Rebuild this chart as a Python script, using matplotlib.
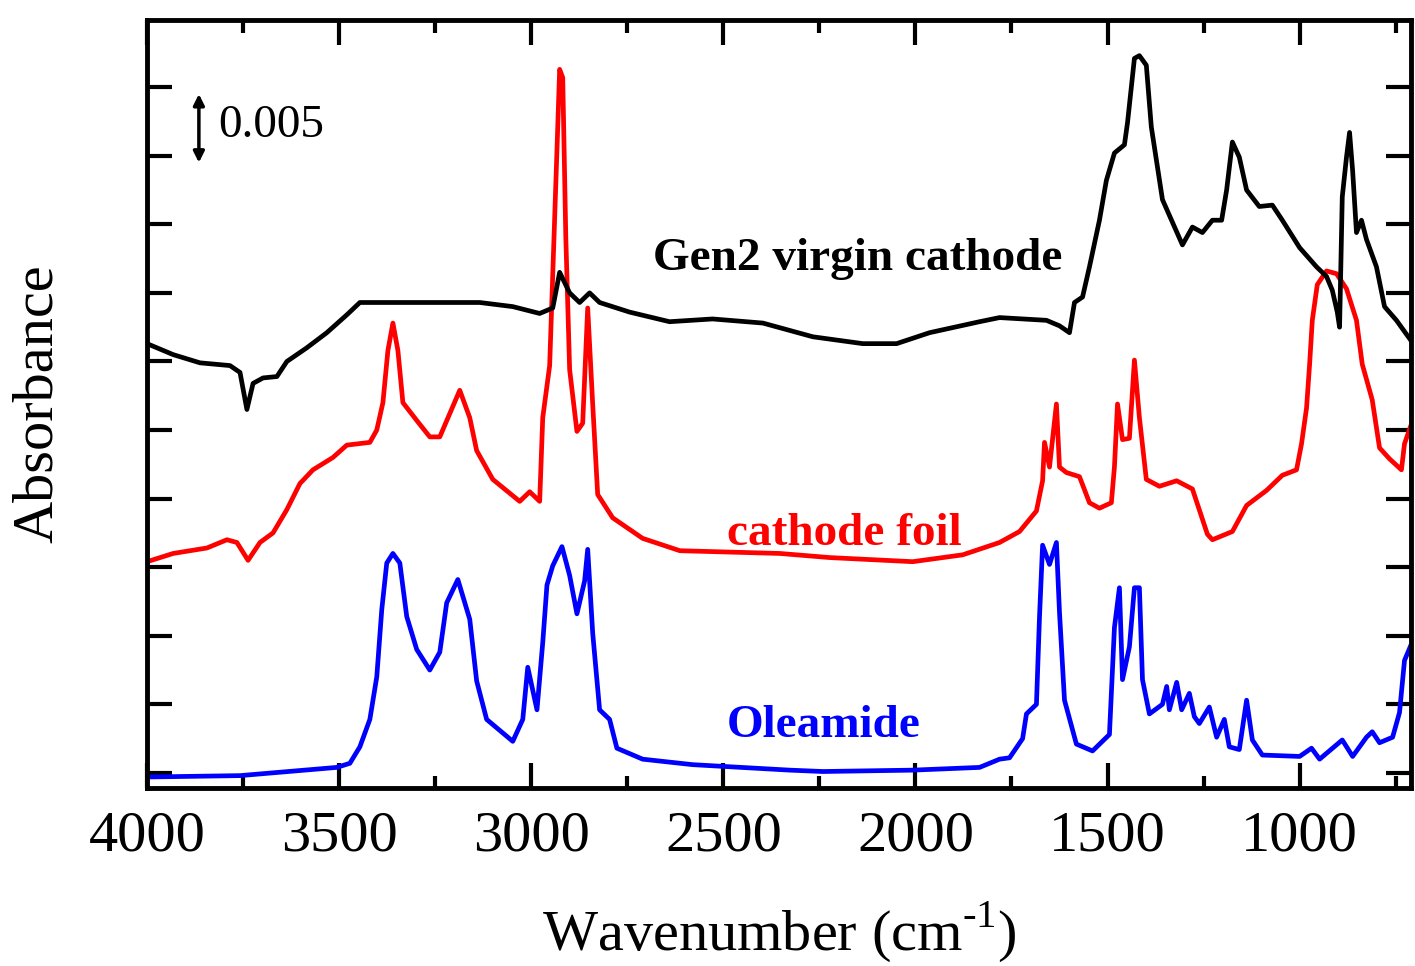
import numpy as np
import matplotlib
matplotlib.use("Agg")
import matplotlib.pyplot as plt
from matplotlib.ticker import MultipleLocator

# FTIR spectra, absorbance in milli-absorbance units
gen2_wn = [4000, 3932, 3862, 3784, 3758, 3740, 3724, 3698, 3662, 3636, 3584, 3532,
           3480, 3446, 3316, 3160, 3134, 3048, 2978, 2944, 2926, 2900, 2874, 2848,
           2822, 2744, 2640, 2528, 2397, 2267, 2137, 2049, 1963, 1833, 1781, 1659,
           1625, 1599, 1586, 1565, 1547, 1521, 1503, 1482, 1456, 1448, 1430, 1417,
           1399, 1386, 1357, 1305, 1279, 1253, 1227, 1203, 1190, 1175, 1157, 1138,
           1105, 1071, 1045, 1000, 956, 930, 915, 902, 896, 889, 878, 870, 862, 852,
           839, 826, 800, 779, 748, 712]
gen2_abs = [31.3, 30.5, 29.9, 29.7, 29.2, 26.5, 28.4, 28.8, 28.9, 30.0, 31.0, 32.1,
            33.4, 34.3, 34.3, 34.3, 34.3, 34.0, 33.5, 33.9, 36.5, 35.0, 34.3, 35.0,
            34.3, 33.6, 32.9, 33.1, 32.8, 31.8, 31.3, 31.3, 32.1, 32.9, 33.2, 33.0,
            32.6, 32.1, 34.3, 34.7, 36.9, 40.3, 43.2, 45.2, 45.8, 47.4, 52.1, 52.3,
            51.6, 47.1, 41.8, 38.5, 39.8, 39.4, 40.3, 40.3, 42.5, 46.0, 44.9, 42.5,
            41.3, 41.4, 40.3, 38.3, 36.9, 36.2, 35.2, 33.6, 32.5, 42.0, 44.9, 46.7,
            43.9, 39.4, 40.3, 38.9, 36.9, 34.0, 33.0, 31.6]

foil_wn = [4000, 3932, 3844, 3792, 3766, 3737, 3706, 3672, 3636, 3602, 3568, 3516,
           3480, 3420, 3402, 3386, 3373, 3360, 3347, 3334, 3298, 3264, 3238, 3212,
           3186, 3160, 3142, 3100, 3030, 3004, 2978, 2970, 2952, 2933, 2926, 2918,
           2910, 2900, 2881, 2866, 2853, 2840, 2827, 2788, 2710, 2613, 2353, 2223,
           2007, 1877, 1781, 1729, 1685, 1669, 1664, 1651, 1633, 1625, 1607, 1573,
           1547, 1521, 1490, 1482, 1474, 1461, 1443, 1430, 1417, 1399, 1365, 1320,
           1279, 1240, 1227, 1175, 1138, 1086, 1045, 1008, 995, 982, 974, 967, 954,
           930, 904, 878, 852, 837, 811, 792, 766, 735, 727, 712]
foil_abs = [15.4, 16.0, 16.4, 17.0, 16.8, 15.5, 16.8, 17.5, 19.2, 21.1, 22.1, 23.0,
            23.9, 24.1, 25.0, 27.0, 30.8, 32.8, 30.8, 27.0, 25.7, 24.5, 24.5, 26.2,
            27.9, 25.9, 23.5, 21.4, 19.8, 20.5, 19.8, 25.9, 29.7, 45.4, 51.3, 50.7,
            39.1, 29.4, 24.9, 25.5, 33.9, 26.9, 20.3, 18.6, 17.1, 16.2, 16.0, 15.7,
            15.4, 15.9, 16.8, 17.6, 19.1, 21.3, 24.1, 22.3, 26.9, 22.3, 21.9, 21.6,
            19.7, 19.3, 19.7, 22.3, 26.9, 24.3, 24.4, 30.1, 25.9, 21.4, 20.9, 21.3,
            20.7, 17.4, 17.0, 17.6, 19.5, 20.6, 21.7, 22.1, 24.0, 26.6, 29.8, 33.0,
            35.6, 36.6, 36.4, 35.3, 33.0, 29.8, 27.2, 23.7, 22.9, 22.1, 24.0, 25.2]

ole_wn = [4000, 3758, 3506, 3472, 3446, 3420, 3402, 3389, 3376, 3360, 3342, 3324,
          3298, 3264, 3238, 3220, 3191, 3160, 3142, 3116, 3048, 3022, 3009, 2985,
          2970, 2959, 2944, 2920, 2900, 2881, 2861, 2853, 2840, 2822, 2796, 2777,
          2710, 2580, 2327, 2241, 2007, 1833, 1781, 1755, 1721, 1711, 1685, 1677,
          1669, 1651, 1633, 1625, 1612, 1581, 1539, 1495, 1482, 1469, 1461, 1443,
          1430, 1417, 1409, 1391, 1357, 1346, 1339, 1320, 1307, 1287, 1274, 1261,
          1235, 1216, 1196, 1183, 1157, 1138, 1123, 1097, 1000, 969, 948, 889, 862,
          826, 811, 792, 758, 740, 727, 712]
ole_abs = [-0.3, -0.2, 0.4, 0.7, 1.9, 3.9, 7.0, 11.9, 15.3, 16.0, 15.3, 11.4,
           9.0, 7.5, 8.8, 12.4, 14.1, 11.2, 6.7, 3.9, 2.3, 3.9, 7.7, 4.6,
           9.5, 13.7, 15.1, 16.5, 14.4, 11.6, 14.0, 16.3, 10.2, 4.6, 3.9, 1.8,
           1.0, 0.6, 0.2, 0.1, 0.2, 0.4, 1.0, 1.1, 2.5, 4.3, 5.0, 11.4,
           16.6, 15.2, 16.8, 11.7, 5.3, 2.1, 1.6, 2.8, 10.6, 13.5, 6.8, 9.2,
           13.5, 13.5, 6.8, 4.3, 5.0, 6.3, 4.6, 6.6, 4.6, 5.8, 4.1, 3.6,
           4.8, 2.6, 3.9, 1.9, 1.7, 5.3, 2.4, 1.3, 1.2, 1.8, 1.0, 2.4, 1.2,
           2.6, 3.0, 2.2, 2.6, 4.4, 8.2, 9.2]

labels = ["Gen2 virgin cathode", "cathode foil", "Oleamide"]
colors = ["black", "red", "blue"]

plt.rcParams['font.family'] = ['Liberation Serif', 'DejaVu Serif']
plt.rcParams['mathtext.fontset'] = 'custom'
plt.rcParams['mathtext.rm'] = 'Liberation Serif'

fig = plt.figure(figsize=(14.15, 9.66), dpi=100)
ax = fig.add_axes([0.1039, 0.1843, 0.8933, 0.795])

ax.plot(ole_wn, np.array(ole_abs) / 1000, color=colors[2], lw=3.4)
ax.plot(foil_wn, np.array(foil_abs) / 1000, color=colors[1], lw=3.4)
ax.plot(gen2_wn, np.array(gen2_abs) / 1000, color=colors[0], lw=3.4)

ax.set_xlim(4000, 710)
ax.set_ylim(-0.0011, 0.0549)

ax.xaxis.set_major_locator(MultipleLocator(500))
ax.xaxis.set_minor_locator(MultipleLocator(250))
ax.yaxis.set_major_locator(MultipleLocator(0.005))
ax.set_yticklabels([])
ax.tick_params(which='both', direction='in', top=True, right=True, width=3)
ax.tick_params(which='major', length=18, labelsize=42, pad=16)
ax.tick_params(which='minor', length=9)
for s in ax.spines.values():
    s.set_linewidth(3.5)

ax.set_xlabel(r'Wavenumber (cm$^{\text{-1}}$)', fontsize=42)
ax.set_ylabel('Absorbance', fontsize=42)
ax.xaxis.set_label_coords(0.5, -0.145)
ax.yaxis.set_label_coords(-0.066, 0.5)

# curve labels
ax.text(2684, 0.03666, labels[0], color=colors[0], fontsize=34, fontweight='bold', ha='left', va='baseline')
ax.text(2491, 0.01662, labels[1], color=colors[1], fontsize=34, fontweight='bold', ha='left', va='baseline')
ax.text(2491, 0.00262, labels[2], color=colors[2], fontsize=34, fontweight='bold', ha='left', va='baseline')

# scale bar
ax.annotate('', xy=(3865, 0.0445), xytext=(3865, 0.0495),
            arrowprops=dict(arrowstyle='<|-|>', color='black', lw=2.5,
                            shrinkA=0, shrinkB=0, mutation_scale=16))
ax.text(3815, 0.04636, '0.005', fontsize=34, ha='left', va='baseline')

fig.savefig('out.png', dpi=100)
